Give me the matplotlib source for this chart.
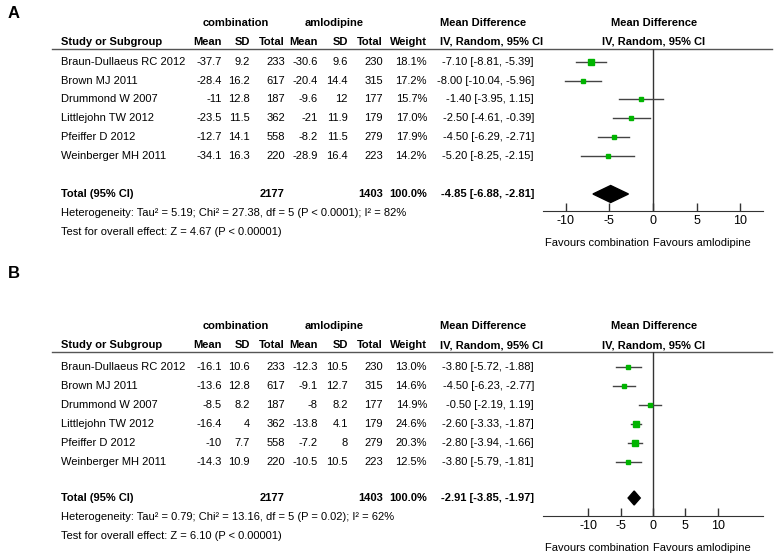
import numpy as np
import matplotlib
matplotlib.use('Agg')
import matplotlib.pyplot as plt
from matplotlib.patches import Polygon

plt.rcParams['font.family'] = ['Liberation Sans', 'DejaVu Sans']
plt.rcParams['axes.unicode_minus'] = False

# ---- data
studies = ['Braun-Dullaeus RC 2012', 'Brown MJ 2011', 'Drummond W 2007',
           'Littlejohn TW 2012', 'Pfeiffer D 2012', 'Weinberger MH 2011']
comb_n = [233, 617, 187, 362, 558, 220]
aml_n = [230, 315, 177, 179, 279, 223]

# panel A
a_comb_mean = [-37.7, -28.4, -11, -23.5, -12.7, -34.1]
a_comb_sd = [9.2, 16.2, 12.8, 11.5, 14.1, 16.3]
a_aml_mean = [-30.6, -20.4, -9.6, -21, -8.2, -28.9]
a_aml_sd = [9.6, 14.4, 12, 11.9, 11.5, 16.4]
a_weight = [18.1, 17.2, 15.7, 17.0, 17.9, 14.2]
a_md = [-7.10, -8.00, -1.40, -2.50, -4.50, -5.20]
a_lo = [-8.81, -10.04, -3.95, -4.61, -6.29, -8.25]
a_hi = [-5.39, -5.96, 1.15, -0.39, -2.71, -2.15]
a_total = (-4.85, -6.88, -2.81)
a_het = 'Heterogeneity: Tau² = 5.19; Chi² = 27.38, df = 5 (P < 0.0001); I² = 82%'
a_test = 'Test for overall effect: Z = 4.67 (P < 0.00001)'

# panel B
b_comb_mean = [-16.1, -13.6, -8.5, -16.4, -10, -14.3]
b_comb_sd = [10.6, 12.8, 8.2, 4, 7.7, 10.9]
b_aml_mean = [-12.3, -9.1, -8, -13.8, -7.2, -10.5]
b_aml_sd = [10.5, 12.7, 8.2, 4.1, 8, 10.5]
b_weight = [13.0, 14.6, 14.9, 24.6, 20.3, 12.5]
b_md = [-3.80, -4.50, -0.50, -2.60, -2.80, -3.80]
b_lo = [-5.72, -6.23, -2.19, -3.33, -3.94, -5.79]
b_hi = [-1.88, -2.77, 1.19, -1.87, -1.66, -1.81]
b_total = (-2.91, -3.85, -1.97)
b_het = 'Heterogeneity: Tau² = 0.79; Chi² = 13.16, df = 5 (P = 0.02); I² = 62%'
b_test = 'Test for overall effect: Z = 6.10 (P < 0.00001)'

ticks = [-10, -5, 0, 5, 10]

W, H = 777, 560
fig = plt.figure(figsize=(W / 100, H / 100), dpi=100)
ax = fig.add_axes([0, 0, 1, 1])
ax.set_xlim(0, W)
ax.set_ylim(H, 0)
ax.axis('off')

FS = 8
GREEN = '#00b400'
COLS = [222, 250, 285, 318, 348, 383, 427]


def panel(letter, letter_y, top, rows_y, tot_y, het_y, test_y, axis_y, xlim,
          cm, csd, am, asd, wt, md, lo, hi, total, het, test, dh):
    ax.text(8, letter_y, letter, fontsize=12, fontweight='bold', va='center')
    h1 = top + 23
    h2 = top + 42
    ax.text(236, h1, 'combination', ha='center', va='center', fontsize=FS, fontweight='bold')
    ax.text(334, h1, 'amlodipine', ha='center', va='center', fontsize=FS, fontweight='bold')
    ax.text(440, h1, 'Mean Difference', ha='left', va='center', fontsize=FS, fontweight='bold')
    ax.text(654, h1, 'Mean Difference', ha='center', va='center', fontsize=FS, fontweight='bold')
    ax.text(61, h2, 'Study or Subgroup', ha='left', va='center', fontsize=FS, fontweight='bold')
    for x, s in zip(COLS, ['Mean', 'SD', 'Total', 'Mean', 'SD', 'Total', 'Weight']):
        ax.text(x, h2, s, ha='right', va='center', fontsize=FS, fontweight='bold')
    ax.text(440, h2, 'IV, Random, 95% CI', ha='left', va='center', fontsize=FS, fontweight='bold')
    ax.text(654, h2, 'IV, Random, 95% CI', ha='center', va='center', fontsize=FS, fontweight='bold')
    line_y = top + 49
    ax.plot([52, 772], [line_y, line_y], color='#555555', lw=1)

    for i, y in enumerate(rows_y):
        ax.text(61, y, studies[i], ha='left', va='center', fontsize=FS)
        vals = [f'{cm[i]:g}', f'{csd[i]:g}', str(comb_n[i]), f'{am[i]:g}', f'{asd[i]:g}',
                str(aml_n[i]), f'{wt[i]:.1f}%']
        for x, s in zip(COLS, vals):
            ax.text(x, y, s, ha='right', va='center', fontsize=FS)
        ax.text(534, y, f'{md[i]:.2f} [{lo[i]:.2f}, {hi[i]:.2f}]',
                ha='right', va='center', fontsize=FS)

    ax.text(61, tot_y, 'Total (95% CI)', ha='left', va='center', fontsize=FS, fontweight='bold')
    ax.text(285, tot_y, str(sum(comb_n)), ha='right', va='center', fontsize=FS, fontweight='bold')
    ax.text(383, tot_y, str(sum(aml_n)), ha='right', va='center', fontsize=FS, fontweight='bold')
    ax.text(427, tot_y, '100.0%', ha='right', va='center', fontsize=FS, fontweight='bold')
    ax.text(534, tot_y, f'{total[0]:.2f} [{total[1]:.2f}, {total[2]:.2f}]',
            ha='right', va='center', fontsize=FS, fontweight='bold')
    ax.text(61, het_y, het, ha='left', va='center', fontsize=FS)
    ax.text(61, test_y, test, ha='left', va='center', fontsize=FS)

    # forest plot
    fx0, fx1 = 543, 763
    fa = fig.add_axes([fx0 / W, 1 - axis_y / H, (fx1 - fx0) / W, (axis_y - line_y) / H])
    fa.set_xlim(*xlim)
    fa.set_ylim(axis_y, line_y)
    fa.patch.set_alpha(0)
    for s in ['top', 'left', 'right']:
        fa.spines[s].set_visible(False)
    fa.spines['bottom'].set_color('#333333')
    fa.set_yticks([])
    fa.set_xticks(ticks)
    fa.tick_params(axis='x', direction='in', length=6, width=1, color='#333333',
                   labelsize=FS + 1, pad=3)
    fa.axvline(0, color='#333333', lw=1)
    for i, y in enumerate(rows_y):
        fa.plot([lo[i], hi[i]], [y, y], color='#444444', lw=1)
        fa.plot(md[i], y, 's', color=GREEN, ms=wt[i] * 0.2, mec=GREEN)
    est, l, h = total
    fa.add_patch(Polygon([[l, tot_y], [est, tot_y - dh], [h, tot_y], [est, tot_y + dh]],
                         closed=True, color='black'))
    ax.text(597, axis_y + 32, 'Favours combination', ha='center', va='center', fontsize=FS)
    ax.text(702, axis_y + 32, 'Favours amlodipine', ha='center', va='center', fontsize=FS)


panel('A', 13, 0, [62, 81, 99, 118, 137, 156], 194, 213, 232, 211, (-12.6, 12.6),
      a_comb_mean, a_comb_sd, a_aml_mean, a_aml_sd, a_weight, a_md, a_lo, a_hi,
      a_total, a_het, a_test, 8.5)
panel('B', 273, 303, [367, 386, 405, 424, 443, 462], 498, 517, 536, 516, (-17, 17),
      b_comb_mean, b_comb_sd, b_aml_mean, b_aml_sd, b_weight, b_md, b_lo, b_hi,
      b_total, b_het, b_test, 7)

fig.savefig('out.png', dpi=100)
